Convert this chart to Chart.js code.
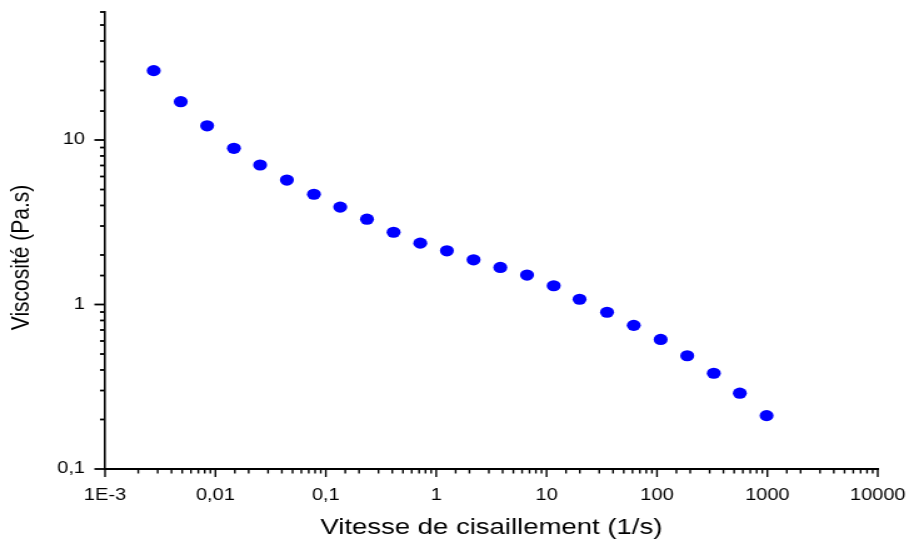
<!DOCTYPE html>
<html lang="fr">
<head>
<meta charset="utf-8">
<title>Viscosité</title>
<script src="https://cdn.jsdelivr.net/npm/chart.js@4.4.1/dist/chart.umd.min.js"></script>
<style>
  html, body { margin: 0; padding: 0; background: #fff; }
</style>
</head>
<body>
<!-- le canvas est étiré en largeur (727 -> 909) -->
<canvas id="viscChart" width="727" height="543" style="display:block; width:909px; height:543px;"></canvas>
<script>
// Courbe d'écoulement : viscosité vs vitesse de cisaillement
const shearRates = [0.00276, 0.00485, 0.00841, 0.0147, 0.0254, 0.0444, 0.078, 0.135,
  0.236, 0.411, 0.717, 1.25, 2.18, 3.81, 6.65, 11.6, 19.9, 35.3, 61.6, 108, 188, 327, 563, 984];
const viscosities = [26.4, 17.1, 12.2, 8.9, 7.05, 5.71, 4.68, 3.91,
  3.30, 2.75, 2.36, 2.12, 1.87, 1.68, 1.51, 1.30, 1.076, 0.897, 0.747, 0.613, 0.488, 0.382, 0.289, 0.211];

// étiquettes des décades
const xTickLabels = ['1E-3', '0,01', '0,1', '1', '10', '100', '1000', '10000'];
const yTickLabels = ['0,1', '1', '10'];
const xRange = [0.001, 10000];
const yRange = [0.1, 60];

const xTitle = 'Vitesse de cisaillement (1/s)';
const yTitle = 'Viscosité (Pa.s)';

const FONT = "'Liberation Sans', Arial, sans-serif";

// renvoie l'exposant si la valeur est une puissance de 10, sinon null
function decadeOf(v) {
  const e = Math.log10(v);
  const r = Math.round(e);
  return Math.abs(e - r) < 1e-6 ? r : null;
}

// petites et grandes graduations
const tickMarks = {
  id: 'tickMarks',
  afterDraw(chart) {
    const ctx = chart.ctx;
    const xs = chart.scales.x;
    const ys = chart.scales.y;
    ctx.save();
    ctx.strokeStyle = '#000';

    ctx.lineWidth = 1.4;
    xs.ticks.forEach(t => {
      const px = xs.getPixelForValue(t.value);
      const len = decadeOf(t.value) !== null ? 8 : 4.5;
      ctx.beginPath();
      ctx.moveTo(px, xs.top);
      ctx.lineTo(px, xs.top + len);
      ctx.stroke();
    });

    ctx.lineWidth = 1.8;
    ys.ticks.forEach(t => {
      const py = ys.getPixelForValue(t.value);
      const len = decadeOf(t.value) !== null ? 8.5 : 4;
      ctx.beginPath();
      ctx.moveTo(ys.right, py);
      ctx.lineTo(ys.right - len, py);
      ctx.stroke();
    });
    ctx.restore();
  }
};

// titre de l'axe Y, un peu sous le milieu de l'axe
const yAxisTitle = {
  id: 'yAxisTitle',
  afterDraw(chart) {
    const {ctx, chartArea} = chart;
    ctx.save();
    ctx.translate(17.5, (chartArea.top + chartArea.bottom) / 2 + 17);
    ctx.rotate(-Math.PI / 2);
    ctx.font = `21px ${FONT}`;
    ctx.fillStyle = '#000';
    ctx.textAlign = 'center';
    ctx.textBaseline = 'middle';
    ctx.fillText(yTitle, 0, 0);
    ctx.restore();
  }
};

const ctx = document.getElementById('viscChart').getContext('2d');
const viscChart = new Chart(ctx, {
  type: 'scatter',
  data: {
    datasets: [{
      data: shearRates.map((x, i) => ({ x: x, y: viscosities[i] })),
      backgroundColor: '#0000ff',
      borderColor: '#0000ff',
      borderWidth: 0,
      pointRadius: 5.6,
      showLine: false
    }]
  },
  options: {
    responsive: false,
    animation: false,
    events: [],
    layout: { padding: { top: 12, right: 25, left: 0, bottom: 0 } },
    plugins: {
      legend: { display: false },
      tooltip: { enabled: false }
    },
    scales: {
      x: {
        type: 'logarithmic',
        position: 'bottom',
        min: xRange[0],
        max: xRange[1],
        afterFit: (scale) => {
          scale.height = 74;
          scale.paddingLeft = 0;
          scale.paddingRight = 0;
        },
        border: { display: true, color: '#000', width: 2 },
        grid: { drawOnChartArea: false, color: 'transparent', tickLength: 8 },
        ticks: {
          autoSkip: false,
          maxRotation: 0,
          padding: 9,
          color: '#000',
          font: { family: FONT, size: 16 },
          callback: (value) => {
            const d = decadeOf(value);
            return d === null ? '' : (xTickLabels[d + 3] || '');
          }
        },
        title: {
          display: true,
          text: xTitle,
          color: '#000',
          font: { family: FONT, size: 22 },
          padding: { top: 0, bottom: 2 }
        }
      },
      y: {
        type: 'logarithmic',
        position: 'left',
        min: yRange[0],
        max: yRange[1],
        afterFit: (scale) => {
          scale.width = 84;
          scale.paddingTop = 0;
          scale.paddingBottom = 0;
        },
        border: { display: true, color: '#000', width: 1.6 },
        grid: { drawOnChartArea: false, color: 'transparent', tickLength: 8 },
        ticks: {
          autoSkip: false,
          padding: 8,
          color: '#000',
          font: { family: FONT, size: 16 },
          callback: (value) => {
            const d = decadeOf(value);
            return d === null ? '' : (yTickLabels[d + 1] || '');
          }
        }
      }
    }
  },
  plugins: [tickMarks, yAxisTitle]
});
</script>
</body>
</html>
